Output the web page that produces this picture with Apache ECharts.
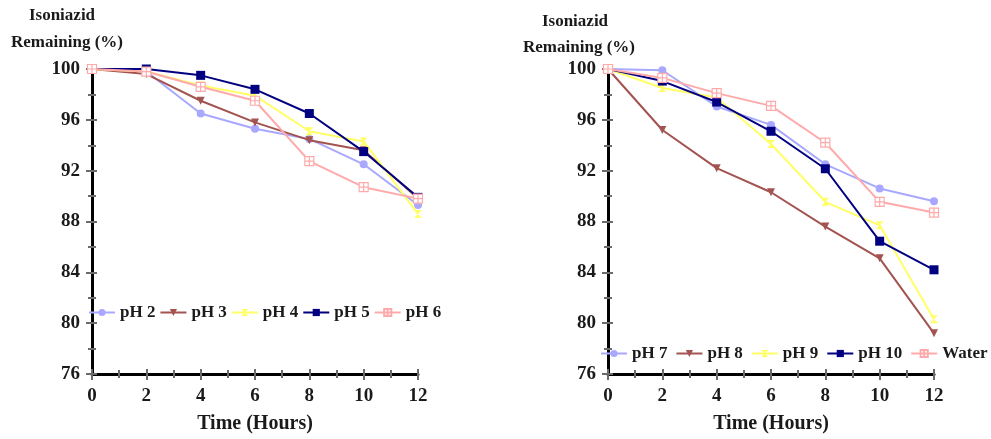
<!DOCTYPE html>
<html>
<head>
<meta charset="utf-8">
<script src="https://cdn.jsdelivr.net/npm/echarts@6/dist/echarts.min.js"></script>
<style>
  html, body { margin: 0; padding: 0; background: #fff; }
  #chart { width: 991px; height: 439px; }
</style>
</head>
<body>
<div id="chart"></div>
<script>
// Sampling times (hours)
const hours = [0, 2, 4, 6, 8, 10, 12];

// Acidic conditions (left panel), isoniazid remaining (%)
const pH2 = [100, 99.8, 96.5, 95.3, 94.5, 92.5, 89.3];
const pH3 = [100, 99.6, 97.5, 95.8, 94.4, 93.6, 89.8];
const pH4 = [100, 99.8, 98.7, 97.9, 95.1, 94.3, 88.6];
const pH5 = [100, 100, 99.5, 98.4, 96.5, 93.5, 89.9];
const pH6 = [100, 99.8, 98.6, 97.5, 92.75, 90.7, 89.8];

// Neutral / basic conditions (right panel)
const pH7 = [100, 99.9, 97.05, 95.6, 92.5, 90.6, 89.6];
const pH8 = [100, 95.2, 92.2, 90.3, 87.6, 85.1, 79.2];
const pH9 = [100, 98.5, 97.75, 94.1, 89.55, 87.7, 80.3];
const pH10 = [100, 99.05, 97.4, 95.1, 92.15, 86.45, 84.2];
const water = [100, 99.3, 98.1, 97.1, 94.2, 89.55, 88.7];

const leftNames = ['pH 2', 'pH 3', 'pH 4', 'pH 5', 'pH 6'];
const rightNames = ['pH 7', 'pH 8', 'pH 9', 'pH 10', 'Water'];

const FONT = '"Liberation Serif", "DejaVu Serif", serif';
const COLORS = ['#a8a8ff', '#a35350', '#ffff66', '#000080', '#ffaaaa'];

const styles = [
  { symbol: 'circle', symbolSize: 8, fill: COLORS[0] },
  { symbol: 'path://M0,0 L10,0 L5,9 Z', symbolSize: 8, fill: COLORS[1] },
  { symbol: 'path://M0,0 L10,0 L0,10 L10,10 Z', symbolSize: 8, fill: COLORS[2] },
  { symbol: 'rect', symbolSize: 9, fill: COLORS[3] },
  { symbol: 'path://M0,0 H10 V10 H0 Z M5,0 V10 M0,5 H10', symbolSize: 9, fill: '#ffffff' }
];

function pairs(vals) {
  return hours.map((h, i) => [h, vals[i]]);
}

function makeSeries(names, data, gridIdx) {
  return names.map((name, i) => ({
    name: name,
    type: 'line',
    xAxisIndex: gridIdx * 2,
    yAxisIndex: gridIdx * 2,
    data: pairs(data[i]),
    symbol: styles[i].symbol,
    symbolSize: styles[i].symbolSize,
    showAllSymbol: true,
    lineStyle: { color: COLORS[i], width: 2 },
    itemStyle: {
      color: styles[i].fill,
      borderColor: COLORS[i],
      borderWidth: i === 4 ? 1.2 : 0
    },
    z: 3 + i,
    animation: false
  }));
}

const tickStyle = { color: '#6b6b6b', width: 2 };

// Each panel gets a twin axis whose ticks point inward, so ticks cross the axis line
function xAxes(gridIdx) {
  const base = {
    type: 'value', gridIndex: gridIdx, min: 0, max: 12, interval: 2,
    position: 'bottom', splitLine: { show: false }
  };
  return [
    Object.assign({}, base, {
      name: 'Time (Hours)', nameLocation: 'middle', nameGap: 40,
      nameTextStyle: { fontFamily: FONT, fontWeight: 'bold', fontSize: 20, color: '#1a1a1a' },
      axisLine: { show: true, lineStyle: { color: '#000', width: 3 } },
      axisTick: { show: true, inside: false, length: 6, lineStyle: tickStyle },
      minorTick: { show: true, splitNumber: 2, length: 4, lineStyle: tickStyle },
      axisLabel: { fontFamily: FONT, fontWeight: 'bold', fontSize: 19, color: '#1a1a1a', margin: 13 },
      z: 2
    }),
    Object.assign({}, base, {
      axisLine: { show: true, lineStyle: { color: 'rgba(0,0,0,0)', width: 0 } },
      axisTick: { show: true, inside: true, length: 5, lineStyle: tickStyle },
      minorTick: { show: true, splitNumber: 2, length: 4, lineStyle: tickStyle },
      axisLabel: { show: false },
      z: 3
    })
  ];
}

function yAxes(gridIdx) {
  const base = {
    type: 'value', gridIndex: gridIdx, min: 76, max: 100, interval: 4,
    position: 'left', splitLine: { show: false }
  };
  return [
    Object.assign({}, base, {
      axisLine: { show: true, lineStyle: { color: '#000', width: 3 } },
      axisTick: { show: true, inside: false, length: 6, lineStyle: tickStyle },
      minorTick: { show: true, splitNumber: 2, length: 4, lineStyle: tickStyle },
      axisLabel: { fontFamily: FONT, fontWeight: 'bold', fontSize: 19, color: '#1a1a1a', margin: 12 },
      z: 2
    }),
    Object.assign({}, base, {
      axisLine: { show: true, lineStyle: { color: 'rgba(0,0,0,0)', width: 0 } },
      axisTick: { show: true, inside: true, length: 5, lineStyle: tickStyle },
      minorTick: { show: true, splitNumber: 2, length: 4, lineStyle: tickStyle },
      axisLabel: { show: false },
      z: 3
    })
  ];
}

function titleText(x, y, text) {
  return {
    type: 'text', x: x, y: y,
    style: {
      text: text, fontFamily: FONT, fontWeight: 'bold', fontSize: 17,
      fill: '#1a1a1a', align: 'center', verticalAlign: 'middle'
    }
  };
}

const legendText = { fontFamily: FONT, fontWeight: 'bold', fontSize: 17, color: '#1a1a1a' };

const chart = echarts.init(document.getElementById('chart'), null, { renderer: 'canvas' });
chart.setOption({
  backgroundColor: '#ffffff',
  animation: false,
  grid: [
    { left: 92, right: 573, top: 69, bottom: 62 },
    { left: 608, right: 57, top: 69, bottom: 63 }
  ],
  xAxis: xAxes(0).concat(xAxes(1)),
  yAxis: yAxes(0).concat(yAxes(1)),
  legend: [
    {
      data: leftNames, left: 88, top: 304, itemGap: 4, itemWidth: 26, itemHeight: 9,
      textStyle: legendText, padding: 0, width: 400
    },
    {
      data: rightNames, left: 600, top: 345, itemGap: 8, itemWidth: 26, itemHeight: 9,
      textStyle: legendText, padding: 0, width: 420
    }
  ],
  graphic: [
    titleText(62, 16, 'Isoniazid'),
    titleText(67, 43, 'Remaining (%)'),
    titleText(575, 22, 'Isoniazid'),
    titleText(579, 48, 'Remaining (%)')
  ],
  series: makeSeries(leftNames, [pH2, pH3, pH4, pH5, pH6], 0)
    .concat(makeSeries(rightNames, [pH7, pH8, pH9, pH10, water], 1))
});
</script>
</body>
</html>
